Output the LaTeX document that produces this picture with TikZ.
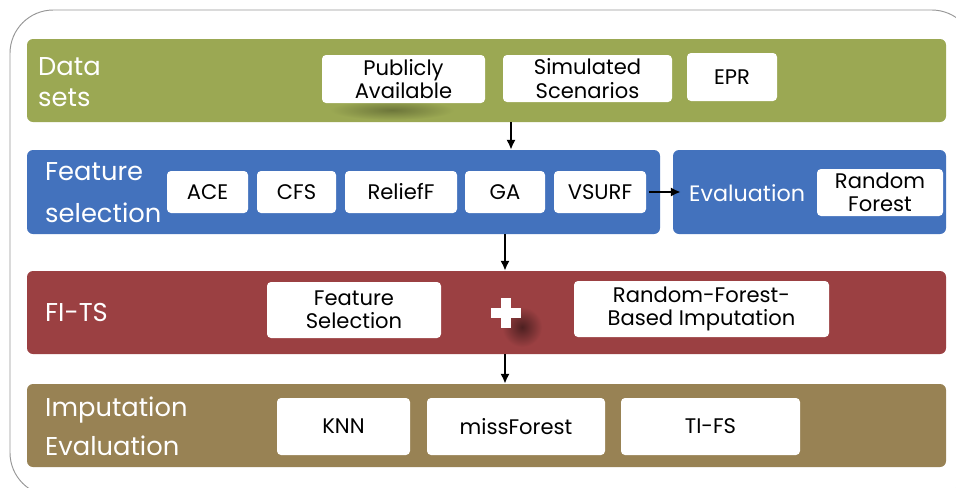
\documentclass[tikz,border=0pt]{standalone}
\usepackage{fontspec}
\setmainfont{Poppins}
\usepackage{tikz}
\usetikzlibrary{arrows.meta}

\definecolor{dsgreen}{RGB}{155,168,83}
\definecolor{fsblue}{RGB}{67,114,189}
\definecolor{fitsred}{RGB}{155,64,66}
\definecolor{evbrown}{RGB}{152,130,84}
\definecolor{framegray}{RGB}{150,150,150}

\tikzset{
    dim/.style 2 args={minimum width=#1*0.3mm, minimum height=#2*0.3mm},
    band/.style={rounded corners=1.8mm, inner sep=0pt},
    item/.style={fill=white, rounded corners=1.2mm, inner sep=0pt, align=center,
        font=\fontsize{18}{20}\selectfont},
    lbl/.style={text=white, anchor=west, align=left, inner sep=0pt,
        font=\fontsize{22}{27}\selectfont},
    flow/.style={-{Latex[length=3mm, width=2.8mm]}, line width=2.2pt},
}

\begin{document}
\begin{tikzpicture}[x=0.3mm, y=-0.3mm]
    \useasboundingbox (0,0) rectangle (956,487);
    \begin{scope}
        \clip (0,0) rectangle (956,487);
        \draw[framegray, line width=0.8pt, rounded corners=13mm] (10,10) rectangle (975,496);
    \end{scope}

    % the four stages
    \node[band, dim={919}{83}, fill=dsgreen] (data) at (486.5,80.5) {};
    \node[band, dim={633}{84}, fill=fsblue] (fsel) at (343.5,192) {};
    \node[band, dim={273}{84}, fill=fsblue] (eval) at (809.5,192) {};
    \node[band, dim={919}{83}, fill=fitsred] (fits) at (486.5,312.5) {};
    \node[band, dim={919}{83}, fill=evbrown] (impev) at (486.5,425.5) {};

    \node[lbl] (datalbl) at (38,82) {Data\\sets};
    \node[lbl] (fsellbl) at (45,193) {Feature\\[9pt]selection};
    \node[lbl, font=\fontsize{19}{23}\selectfont] (evallbl) at (689,193) {Evaluation};
    \node[lbl] (fitslbl) at (45,312) {FI-TS};
    \node[lbl] (impevlbl) at (45,426) {Imputation\\[6pt]Evaluation};

    % data sources
    \shade[inner color=dsgreen!70!black, outer color=dsgreen] (392,110) ellipse (62 and 10);
    \node[item, dim={163}{48}] (pub) at (403.5,79) {Publicly\\Available};
    \node[item, dim={169}{47}] (sim) at (587.5,78.5) {Simulated\\Scenarios};
    \node[item, dim={90}{48}] (epr) at (732,77) {EPR};

    % selection methods
    \node[item, dim={81}{42}] (ace) at (207.5,192) {ACE};
    \node[item, dim={79}{42}] (cfs) at (296.5,192) {CFS};
    \node[item, dim={112}{42}] (relief) at (401,192) {ReliefF};
    \node[item, dim={80}{42}] (ga) at (505,192) {GA};
    \node[item, dim={92}{42}] (vsurf) at (600,192) {VSURF};
    \node[item, dim={126}{47}] (rf) at (880,192.5) {Random\\Forest};

    % FI-TS parts
    \node[item, dim={174}{56}] (fsbox) at (354,310) {Feature\\Selection};
    \node[item, dim={255}{56}] (rfimp) at (701.5,309) {Random-Forest-\\Based Imputation};
    \shade[inner color=fitsred!50!black, outer color=fitsred] (522,327) circle (20);
    \fill[white] (491,308) rectangle (521,318);
    \fill[white] (501,298) rectangle (511,328);

    % compared methods
    \node[item, dim={133}{57}] (knn) at (343.5,426.5) {KNN};
    \node[item, dim={178}{57}] (miss) at (516,426.5) {missForest};
    \node[item, dim={179}{57}] (tifs) at (710.5,426.5) {TI-FS};

    \draw[flow] (data.south -| 511,0) -- (fsel.north -| 511,0);
    \draw[flow] (fsel.south -| 505,0) -- (fits.north -| 505,0);
    \draw[flow] (fits.south -| 505,0) -- (impev.north -| 505,0);
    \draw[flow] (vsurf.east) ++(3,0) coordinate (vout) (vout) -- (vout -| eval.west) -- ++(8,0);
\end{tikzpicture}
\end{document}
